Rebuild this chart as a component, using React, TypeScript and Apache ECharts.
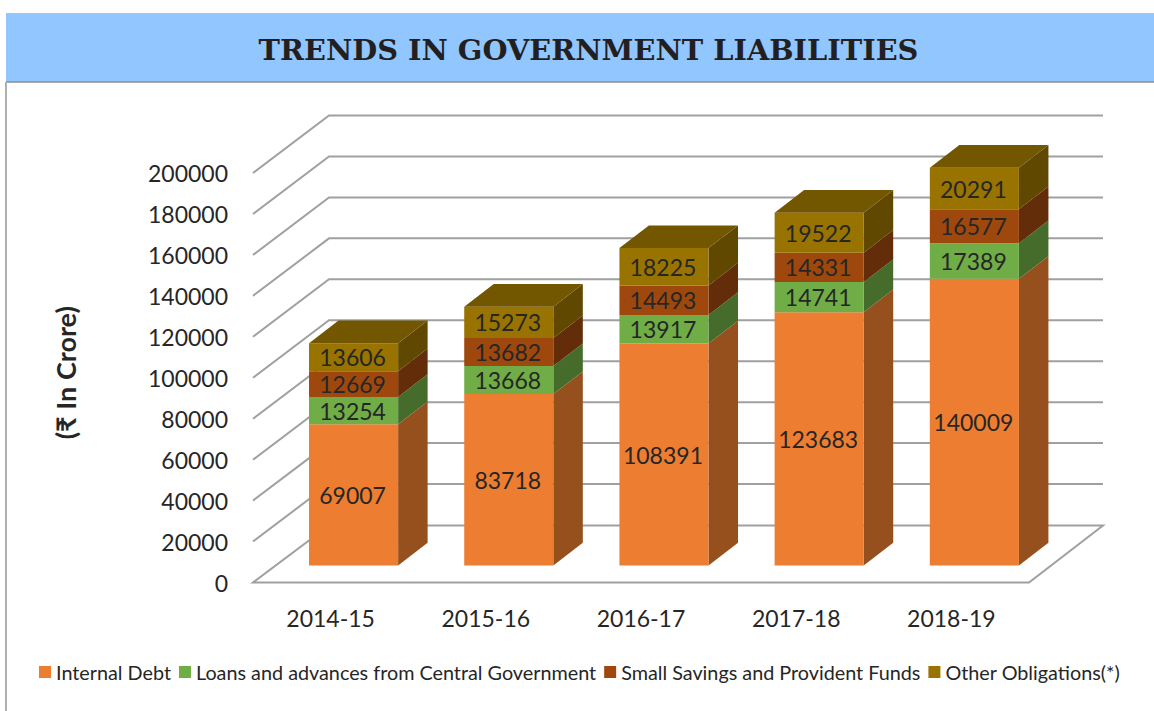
import React, { useEffect, useRef } from "react";
import * as echarts from "echarts";

const titleText = "TRENDS IN GOVERNMENT LIABILITIES";
const axisTitle = "(₹ In Crore)";
const categories = ["2014-15", "2015-16", "2016-17", "2017-18", "2018-19"];
const yTicks = [0, 20000, 40000, 60000, 80000, 100000, 120000, 140000, 160000, 180000, 200000];
const internalDebt = [69007, 83718, 108391, 123683, 140009];
const loansAdvances = [13254, 13668, 13917, 14741, 17389];
const smallSavings = [12669, 13682, 14493, 14331, 16577];
const otherObligations = [13606, 15273, 18225, 19522, 20291];

const stacks = [
  { name: "Internal Debt", values: internalDebt, front: "#ED7D31", side: "#96501D" },
  { name: "Loans and advances from Central Government", values: loansAdvances, front: "#70AD47", side: "#466C2C" },
  { name: "Small Savings and Provident Funds", values: smallSavings, front: "#9E480E", side: "#632D09" },
  { name: "Other Obligations(*)", values: otherObligations, front: "#997300", side: "#604800", top: "#735600" },
];

const FONT = "Lato";
const TEXT = "#262626";
const GRID = "#A0A0A0";

function App() {
  const ref = useRef<HTMLDivElement>(null);
  useEffect(() => {
    const chart = echarts.init(ref.current!, undefined, { renderer: "svg" });

    const wallSeries = {
      type: "custom",
      silent: true,
      z: 1,
      data: yTicks.map((v) => [0, v]),
      encode: { x: 0, y: 1 },
      renderItem: (_p: any, api: any) => {
        const v = api.value(1);
        const a = api.coord([0, v]);
        const band = api.size([1, 0])[0];
        const x0 = a[0] - band / 2;
        const x1 = x0 + band * categories.length;
        const pts =
          v === 0
            ? [[x0 + 76, a[1] - 57], [x1 + 74, a[1] - 57], [x1, a[1]], [x0, a[1]]]
            : [[x0, a[1]], [x0 + 76, a[1] - 57.5], [x1 + 74, a[1] - 57.5]];
        return {
          type: v === 0 ? "polygon" : "polyline",
          shape: { points: pts },
          style: { stroke: GRID, lineWidth: 2, fill: v === 0 ? "#fff" : "none" },
        };
      },
    };

    let running = categories.map(() => 0);
    const barSeries = stacks.map((s, si) => {
      const rows = s.values.map((v, i) => [i, running[i], running[i] + v, v]);
      running = running.map((r, i) => r + s.values[i]);
      return {
        type: "custom",
        name: s.name,
        z: 2 + si,
        itemStyle: { color: s.front },
        data: rows,
        encode: { x: 0, y: [1, 2] },
        renderItem: (_p: any, api: any) => {
          const low = api.coord([api.value(0), api.value(1)]);
          const high = api.coord([api.value(0), api.value(2)]);
          const band = api.size([1, 0])[0];
          const lift = 17;
          const dx = 29.5;
          const dy = 22.7;
          const l = low[0] - band * 0.139;
          const r = l + band * 0.574;
          const b = low[1] - lift;
          const t = high[1] - lift;
          const children: any[] = [
            {
              type: "polygon",
              shape: { points: [[r, b], [r + dx, b - dy], [r + dx, t - dy], [r, t]] },
              style: { fill: s.side },
            },
            { type: "rect", shape: { x: l, y: t, width: r - l, height: b - t }, style: { fill: s.front } },
          ];
          if (s.top) {
            children.push({
              type: "polygon",
              shape: { points: [[l, t], [l + dx, t - dy], [r + dx, t - dy], [r, t]] },
              style: { fill: s.top },
            });
          }
          children.push({
            type: "text",
            style: {
              x: (l + r) / 2 - 1,
              y: (t + b) / 2,
              text: String(api.value(3)),
              fill: TEXT,
              font: `23px ${FONT}`,
              textAlign: "center",
              textVerticalAlign: "middle",
            },
          });
          return { type: "group", children };
        },
      };
    });

    chart.setOption({
      animation: false,
      backgroundColor: "#fff",
      title: {
        text: titleText,
        left: 583.5,
        top: 30,
        textAlign: "center",
        textStyle: { fontFamily: "DejaVu Serif", fontWeight: "bold", fontSize: 28.8, color: "#231F20" },
      },
      grid: { left: 253, top: 173, width: 776, height: 409.5 },
      xAxis: {
        type: "category",
        data: categories,
        axisLine: { show: false },
        axisTick: { show: false },
        axisLabel: { color: TEXT, fontFamily: FONT, fontSize: 23, margin: 24 },
      },
      yAxis: {
        type: "value",
        min: 0,
        max: 200000,
        interval: 20000,
        name: axisTitle,
        nameLocation: "middle",
        nameGap: 174,
        nameRotate: 90,
        nameTextStyle: { color: TEXT, fontFamily: FONT, fontSize: 27, fontWeight: "bold", padding: [0, 0, 0, 10] },
        axisLine: { show: false },
        axisTick: { show: false },
        splitLine: { show: false },
        axisLabel: { color: TEXT, fontFamily: FONT, fontSize: 23, margin: 25, formatter: (v: number) => String(v) },
      },
      legend: {
        left: 39,
        top: 662,
        itemWidth: 12,
        itemHeight: 12,
        itemGap: 8,
        icon: "rect",
        selectedMode: false,
        padding: 0,
        textStyle: { color: TEXT, fontFamily: FONT, fontSize: 19.8, padding: [0, 0, 0, 0] },
        data: stacks.map((s) => s.name),
      },
      graphic: [
        { type: "rect", z: -10, silent: true, shape: { x: 6, y: 13, width: 1148, height: 69 }, style: { fill: "#91C6FF" } },
        { type: "line", z: -9, silent: true, shape: { x1: 6, y1: 82, x2: 1154, y2: 82 }, style: { stroke: "#8C8C8C", lineWidth: 1.5 } },
        { type: "line", z: -9, silent: true, shape: { x1: 6, y1: 82, x2: 6, y2: 711 }, style: { stroke: "#B0B0B0", lineWidth: 2 } },
      ],
      series: [wallSeries, ...barSeries],
    });
    return () => chart.dispose();
  }, []);
  return <div ref={ref} style={{ position: "fixed", left: 0, top: 0, width: 1154, height: 711 }} />;
}

export default App;
